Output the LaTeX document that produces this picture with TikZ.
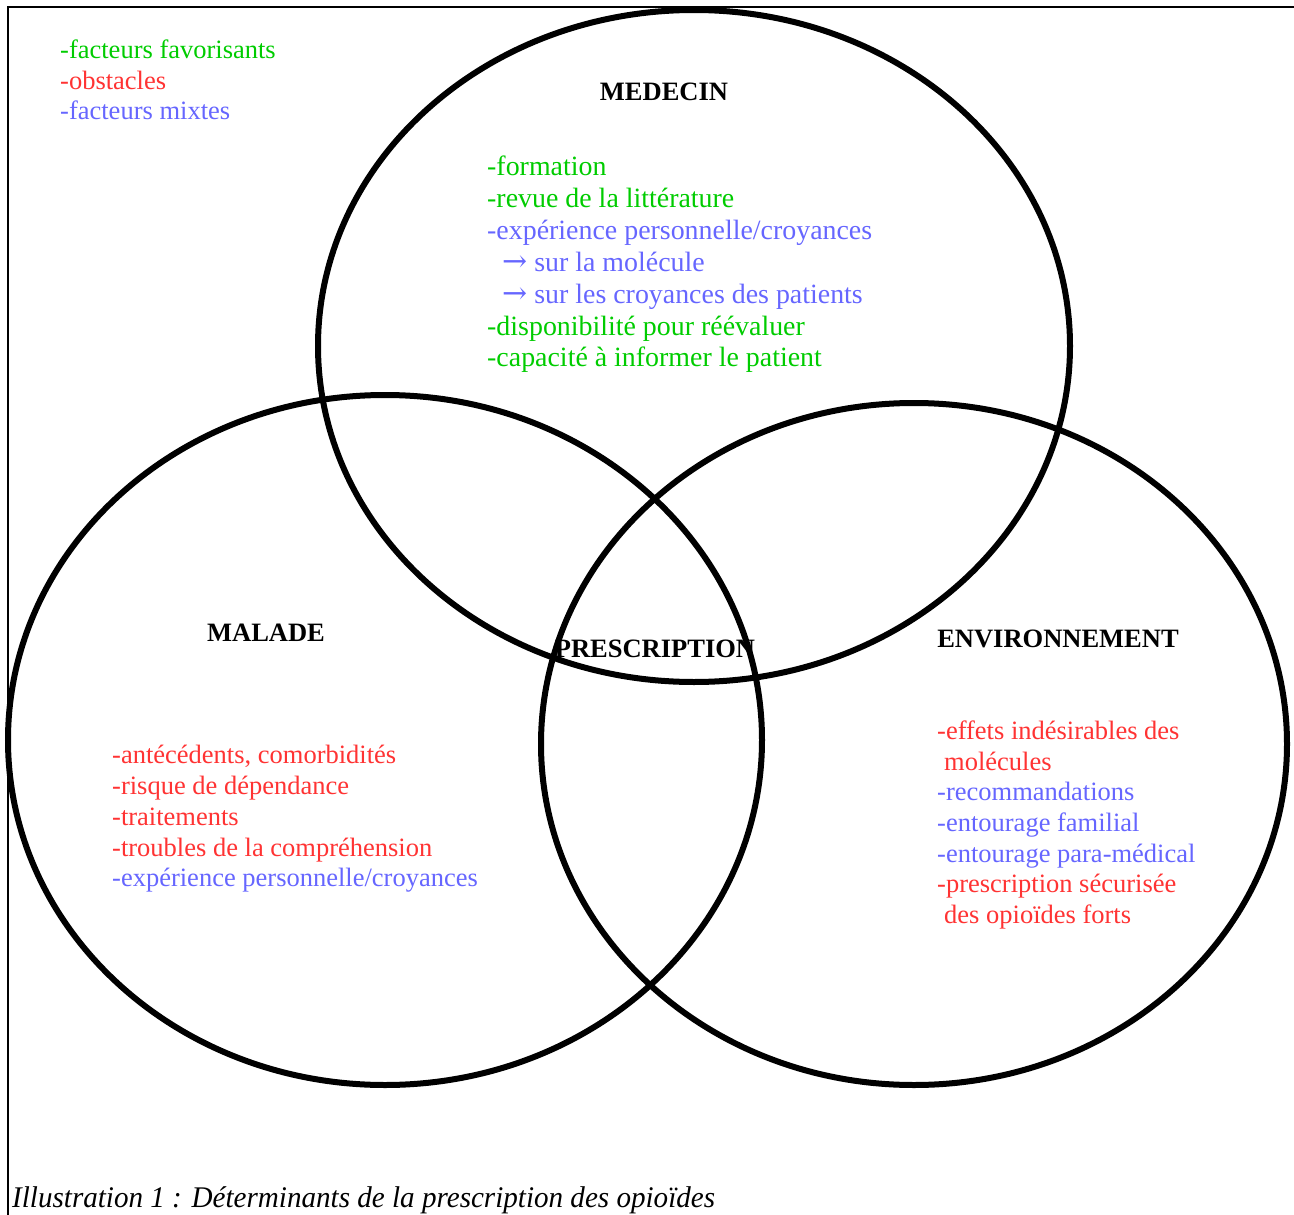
\documentclass[tikz,border=0pt]{standalone}
\usepackage{fontspec}
\setmainfont{Liberation Serif}
\newfontfamily\arrowfont{DejaVu Serif}
\definecolor{fgreen}{RGB}{0,204,0}
\definecolor{fred}{RGB}{255,51,51}
\definecolor{fblue}{RGB}{102,102,255}
\newcommand{\bigarrow}{{\arrowfont\fontsize{30}{32}\selectfont →}}
\begin{document}
\begin{tikzpicture}[x=1pt,y=-1pt,
  txt/.style={anchor=base west,inner sep=0pt,font=\fontsize{26.5}{31}\selectfont},
  big/.style={font=\fontsize{27.9}{32}\selectfont},
  head/.style={anchor=base,inner sep=0pt,font=\fontsize{26.5}{31}\selectfont\bfseries},
  gr/.style={txt,text=fgreen},
  rd/.style={txt,text=fred},
  bl/.style={txt,text=fblue},
  ring/.style={draw=black,line width=6pt}]
\useasboundingbox (0,0) rectangle (1294,1215);
% frame
\coordinate (fb) at (8,1220);
\coordinate (ftl) at (8,7);
\coordinate (ftr) at (1300,7);
\draw[line width=2.5pt] (fb) -- (ftl) -- (ftr);
% legend
\node[gr] (l1) at (60,59) {-facteurs favorisants};
\node[rd] (l2) at (60,89) {-obstacles};
\node[bl] (l3) at (60,120) {-facteurs mixtes};
% medecin
\node[head] (hmed) at (664,100) {MEDECIN};
\node[gr,big] (m1) at (487,175) {-formation};
\node[gr,big] (m2) at (487,207) {-revue de la littérature};
\node[bl,big] (m3) at (487,239) {-expérience personnelle/croyances};
\node[bl,big] (m4) at (502,271) {\bigarrow{} sur la molécule};
\node[bl,big] (m5) at (502,303) {\bigarrow{} sur les croyances des patients};
\node[gr,big] (m6) at (487,335) {-disponibilité pour réévaluer};
\node[gr,big] (m7) at (487,366) {-capacité à informer le patient};
% malade
\node[head] (hmal) at (266,641) {MALADE};
\node[rd] (p1) at (112,763) {-antécédents, comorbidités};
\node[rd] (p2) at (112,794) {-risque de dépendance};
\node[rd] (p3) at (112,825) {-traitements};
\node[rd] (p4) at (112,856) {-troubles de la compréhension};
\node[bl] (p5) at (112,886) {-expérience personnelle/croyances};
% environnement
\node[head] (henv) at (1058,647) {ENVIRONNEMENT};
\node[rd] (e1) at (937,739) {-effets indésirables des};
\node[rd] (e1b) at (944,770) {molécules};
\node[bl] (e2) at (937,800) {-recommandations};
\node[bl] (e3) at (937,831) {-entourage familial};
\node[bl] (e4) at (937,862) {-entourage para-médical};
\node[rd] (e5) at (937,892) {-prescription sécurisée};
\node[rd] (e5b) at (944,923) {des opioïdes forts};
% prescription
\node[head] (hpre) at (655,657) {PRESCRIPTION};
% circles
\draw[ring] (694,346) ellipse [x radius=376, y radius=336];
\draw[ring] (385,740) ellipse [x radius=377, y radius=345];
\draw[ring] (914,744) ellipse [x radius=373, y radius=341];
% caption
\node[anchor=base west,inner sep=0pt,font=\fontsize{30}{34}\selectfont\itshape\addfontfeatures{FakeStretch=0.97}] (cap) at (12,1207) {Illustration 1 : Déterminants de la prescription des opioïdes};
\end{tikzpicture}
\end{document}
